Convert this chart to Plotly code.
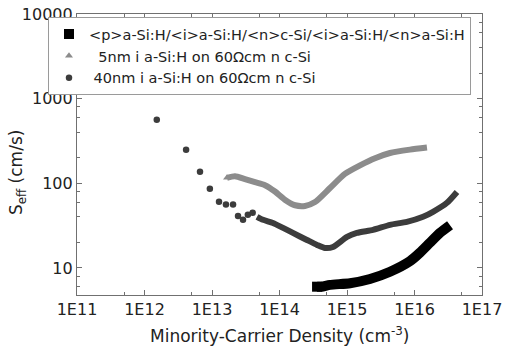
import plotly.graph_objects as go

# ---------------- data ----------------
# <p>a-Si:H/<i>a-Si:H/<n>c-Si/<i>a-Si:H/<n>a-Si:H  (black squares)
stack_x = [3.6e14, 4.2e14, 5.6e14, 1.11e15, 2.19e15, 4.34e15, 8.57e15, 1.2e16, 1.69e16, 2.39e16, 3.36e16]
stack_y = [6.0, 6.0, 6.3, 6.6, 7.4, 9.0, 12.0, 15.1, 19.8, 26.0, 32.0]

# 5nm i a-Si:H on 60 Ohm cm n c-Si  (grey triangles)
thin_x = [1.67e13, 2.19e13, 3.08e13, 4.34e13, 6.1e13, 8.57e13, 1.2e14, 1.7e14, 2.39e14, 3.36e14,
          5.6e14, 9.3e14, 1.56e15, 2.6e15, 4.34e15, 8.57e15, 1.53e16]
thin_y = [116, 121, 112, 103, 95, 80, 64, 55, 54, 60, 88, 129, 163, 198, 228, 250, 265]

# 40nm i a-Si:H on 60 Ohm cm n c-Si  (dark circles) - sparse low-injection points
thick_pts_x = [1.52e12, 4.13e12, 6.64e12, 9.3e12, 1.27e13, 1.61e13, 2.05e13, 2.43e13, 2.88e13, 3.4e13, 4.0e13]
thick_pts_y = [564, 249, 137, 86, 60.5, 56, 56, 41, 37, 42.5, 44.8]
# dense part of the same measurement
thick_x = [4.64e13, 5.7e13, 8.0e13, 1.13e14, 1.58e14, 2.55e14, 3.6e14, 4.72e14, 6.2e14, 1.0e15,
           1.4e15, 2.43e15, 4.34e15, 7.7e15, 1.34e16, 1.88e16, 3.03e16, 4.26e16]
thick_y = [40.2, 37, 34, 29.7, 25.9, 21.4, 18.7, 17.2, 17.7, 23.3,
           25.9, 28.2, 32.3, 35, 40.2, 46, 58.8, 79]

names = ["&lt;p&gt;a-Si:H/&lt;i&gt;a-Si:H/&lt;n&gt;c-Si/&lt;i&gt;a-Si:H/&lt;n&gt;a-Si:H",
         "\u00a0\u00a05nm i a-Si:H on 60\u03a9cm n c-Si",
         "\u00a040nm i a-Si:H on 60\u03a9cm n c-Si"]

x_ticks = [1e11, 1e12, 1e13, 1e14, 1e15, 1e16, 1e17]
x_ticktext = ["1E11", "1E12", "1E13", "1E14", "1E15", "1E16", "1E17"]
x_minor = [5e11, 5e12, 5e13, 5e14, 5e15, 5e16]
y_ticks = [10, 100, 1000, 10000]
y_ticktext = ["10", "100", "1000", "10000"]
y_minor = [m * d for d in (1, 10, 100, 1000) for m in (2, 4, 6, 8) if m * d < 10000]

# ---------------- styling ----------------
FONT = "DejaVu Sans"
BLACK = "#000000"
GREY = "#8c8c8c"
DARK = "#3c3c3c"
AXC = "#707070"
TXT = "#222222"

fig = go.Figure()

# black squares
fig.add_trace(go.Scatter(x=stack_x, y=stack_y, mode="lines", showlegend=False,
                         line=dict(color=BLACK, width=10, shape="spline", smoothing=0.6)))
fig.add_trace(go.Scatter(x=stack_x[:1], y=stack_y[:1], mode="markers", name=names[0],
                         marker=dict(symbol="square", size=10, color=BLACK)))

# grey triangles
fig.add_trace(go.Scatter(x=thin_x, y=thin_y, mode="lines", showlegend=False,
                         line=dict(color=GREY, width=6, shape="spline", smoothing=0.6)))
fig.add_trace(go.Scatter(x=thin_x[:1], y=thin_y[:1], mode="markers", name=names[1],
                         marker=dict(symbol="triangle-up", size=7, color=GREY)))

# dark circles
fig.add_trace(go.Scatter(x=thick_x, y=thick_y, mode="lines", showlegend=False,
                         line=dict(color=DARK, width=6, shape="spline", smoothing=0.6)))
fig.add_trace(go.Scatter(x=thick_pts_x, y=thick_pts_y, mode="markers", name=names[2],
                         marker=dict(symbol="circle", size=6.5, color=DARK)))

axis_common = dict(
    showline=True, linecolor=AXC, linewidth=1.2, mirror="allticks",
    ticks="inside", ticklen=5, tickwidth=1, tickcolor=AXC,
    showgrid=False, zeroline=False,
    tickfont=dict(family=FONT, size=16, color=TXT),
)

fig.update_xaxes(type="log", range=[11, 17], tickvals=x_ticks, ticktext=x_ticktext,
                 minor=dict(tickvals=x_minor, ticks="inside", ticklen=3, tickcolor=AXC, showgrid=False),
                 **axis_common)
fig.update_yaxes(type="log", range=[0.68, 4.0], tickvals=y_ticks, ticktext=y_ticktext,
                 minor=dict(tickvals=y_minor, ticks="inside", ticklen=3, tickcolor=AXC, showgrid=False),
                 **axis_common)

fig.add_annotation(text="S<sub>eff</sub> (cm/s)", xref="paper", yref="paper",
                   x=-0.148, y=0.434, xanchor="center", yanchor="middle", textangle=-90,
                   showarrow=False, font=dict(family=FONT, size=17, color=TXT))
fig.add_annotation(text="Minority-Carrier Density (cm<sup>-3</sup>)", xref="paper", yref="paper",
                   x=0.5, y=-0.142, xanchor="center", yanchor="middle",
                   showarrow=False, font=dict(family=FONT, size=17, color=TXT))

fig.update_layout(
    width=506, height=353,
    margin=dict(l=77, r=24, t=14, b=58, autoexpand=False),
    paper_bgcolor="white", plot_bgcolor="white",
    legend=dict(x=-0.0716, y=0.989, xanchor="left", yanchor="top",
                bgcolor="white", bordercolor="#9a9a9a", borderwidth=1,
                font=dict(family=FONT, size=14.5, color=TXT),
                tracegroupgap=0, itemwidth=30,
                entrywidth=420, entrywidthmode="pixels"),
)

fig.write_html("out.html", config={"displayModeBar": False},
               post_script="document.body.style.margin='0px';")
